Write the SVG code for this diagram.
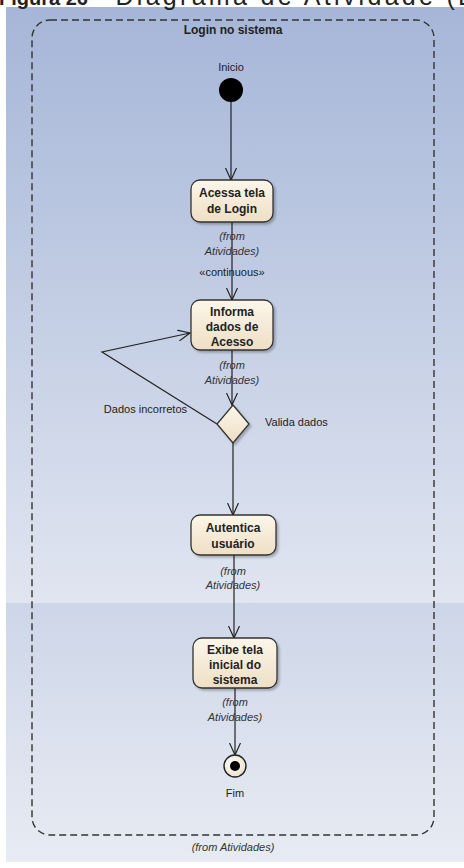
<svg xmlns="http://www.w3.org/2000/svg" width="464" height="868" viewBox="0 0 464 868">
<defs>
<linearGradient id="bg1" x1="0" y1="0" x2="0" y2="1"><stop offset="0" stop-color="#a6b6d8"/><stop offset="1" stop-color="#e0e5f0"/></linearGradient>
<linearGradient id="bg2" x1="0" y1="0" x2="0" y2="1"><stop offset="0" stop-color="#cdd6e8"/><stop offset="1" stop-color="#e8ebf3"/></linearGradient>
<linearGradient id="box" x1="0" y1="0" x2="0" y2="1"><stop offset="0" stop-color="#fdf6ea"/><stop offset="1" stop-color="#eedfc4"/></linearGradient>
<radialGradient id="fin" cx="0.4" cy="0.4" r="0.6"><stop offset="0" stop-color="#ffffff"/><stop offset="1" stop-color="#ece2cc"/></radialGradient>
<marker id="arr" markerWidth="14" markerHeight="12" refX="12" refY="6" orient="auto" markerUnits="userSpaceOnUse"><path d="M0,0.5 L12,6 L0,11.5" fill="none" stroke="#222" stroke-width="1.2"/></marker>
<filter id="sh" x="-10%" y="-10%" width="130%" height="140%"><feDropShadow dx="2" dy="2" stdDeviation="1.2" flood-color="#000" flood-opacity="0.25"/></filter>
</defs>
<style>
.t{font-family:"Liberation Sans",Arial,sans-serif;fill:#222}
.b{font-weight:bold;font-size:12px;text-anchor:middle}
.i{font-style:italic;font-size:11px;text-anchor:middle;fill:#333}
.n{font-size:11px}
.act{fill:url(#box);stroke:#333;stroke-width:1.3;filter:url(#sh)}
.c{fill:none;stroke:#222;stroke-width:1.2}
</style>
<rect x="0" y="0" width="464" height="868" fill="#ffffff"/>
<rect x="6" y="7" width="458" height="596" fill="url(#bg1)"/>
<rect x="6" y="603" width="458" height="259" fill="url(#bg2)"/>
<g id="title">
<text class="t" x="-1" y="5" font-size="20" font-weight="bold">Figura 26</text>
<text class="t" x="88" y="5" font-size="25" textLength="384" lengthAdjust="spacing">– Diagrama de Atividade (L</text>
</g>
<g id="frame">
<rect x="32" y="20" width="402" height="815" rx="18" ry="18" fill="none" stroke="#333" stroke-width="1.4" stroke-dasharray="7,4"/>
<text class="t b" x="233" y="34" font-size="11">Login no sistema</text>
<text class="t i" x="233" y="851">(from Atividades)</text>
</g>
<g id="connectors">
<line class="c" x1="231" y1="102" x2="231" y2="180" marker-end="url(#arr)"/>
<line class="c" x1="232" y1="222" x2="232" y2="300" marker-end="url(#arr)"/>
<line class="c" x1="232" y1="350" x2="232" y2="405" marker-end="url(#arr)"/>
<polyline class="c" points="217,424 102,352 190,333" marker-end="url(#arr)"/>
<line class="c" x1="233" y1="443" x2="233" y2="515" marker-end="url(#arr)"/>
<line class="c" x1="234" y1="555" x2="234" y2="638" marker-end="url(#arr)"/>
<line class="c" x1="235" y1="688" x2="235" y2="755" marker-end="url(#arr)"/>
<text class="t n" x="232" y="276" text-anchor="middle" font-size="10">«continuous»</text>
<text class="t n" x="187" y="413" text-anchor="end">Dados incorretos</text>
</g>
<g id="inicio">
<text class="t n" x="231" y="71" text-anchor="middle">Inicio</text>
<circle cx="231" cy="90" r="12" fill="#000"/>
</g>
<g id="acessa">
<rect class="act" x="191" y="180" width="82" height="42" rx="9"/>
<text class="t b" x="232" y="197">Acessa tela</text>
<text class="t b" x="232" y="213">de Login</text>
<text class="t i" x="232" y="240">(from</text>
<text class="t i" x="232" y="255">Atividades)</text>
</g>
<g id="informa">
<rect class="act" x="191" y="300" width="82" height="50" rx="9"/>
<text class="t b" x="232" y="316">Informa</text>
<text class="t b" x="232" y="331">dados de</text>
<text class="t b" x="232" y="346">Acesso</text>
<text class="t i" x="232" y="369">(from</text>
<text class="t i" x="232" y="384">Atividades)</text>
</g>
<g id="valida">
<polygon points="233,405 249,424 233,443 217,424" fill="url(#box)" stroke="#333" stroke-width="1.3" filter="url(#sh)"/>
<text class="t n" x="265" y="426">Valida dados</text>
</g>
<g id="autentica">
<rect class="act" x="191" y="515" width="85" height="40" rx="9"/>
<text class="t b" x="233" y="532">Autentica</text>
<text class="t b" x="233" y="548">usuário</text>
<text class="t i" x="233" y="575">(from</text>
<text class="t i" x="233" y="589">Atividades)</text>
</g>
<g id="exibe">
<rect class="act" x="193" y="638" width="84" height="50" rx="9"/>
<text class="t b" x="235" y="654">Exibe tela</text>
<text class="t b" x="235" y="669">inicial do</text>
<text class="t b" x="235" y="684">sistema</text>
<text class="t i" x="235" y="706">(from</text>
<text class="t i" x="235" y="721">Atividades)</text>
</g>
<g id="fim">
<circle cx="235" cy="766" r="11" fill="url(#fin)" stroke="#222" stroke-width="1.4"/>
<circle cx="235" cy="766" r="5" fill="#000"/>
<text class="t n" x="235" y="797" text-anchor="middle">Fim</text>
</g>
</svg>
